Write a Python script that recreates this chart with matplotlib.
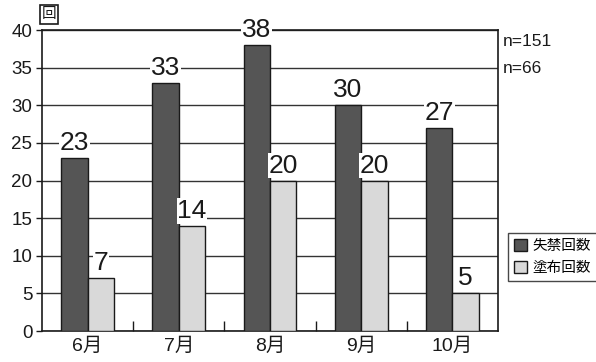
import numpy as np
from matplotlib import pyplot as plt
from matplotlib.patches import Patch

plt.rcParams['font.family'] = ['Liberation Sans', 'Noto Sans CJK JP', 'DejaVu Sans']

# monthly counts
months = ['6月', '7月', '8月', '9月', '10月']
incontinence = [23, 33, 38, 30, 27]   # 失禁回数
application = [7, 14, 20, 20, 5]     # 塗布回数
n_labels = ['n=151', 'n=66']

x = np.arange(len(months))
w = 0.29

fig = plt.figure(figsize=(5.96, 3.62), dpi=100)
ax = fig.add_axes([0.0705, 0.0856, 0.765, 0.831])

b1 = ax.bar(x - w/2, incontinence, w, color='#555555', edgecolor='#1a1a1a', linewidth=1.0, zorder=3)
b2 = ax.bar(x + w/2, application, w, color='#d9d9d9', edgecolor='#1a1a1a', linewidth=1.0, zorder=3)

for xs, vals in [(x - w/2, incontinence), (x + w/2, application)]:
    for xi, v in zip(xs, vals):
        ax.text(xi, v + 0.4, str(v), ha='center', va='bottom', fontsize=19, color='#1a1a1a',
                zorder=4, bbox=dict(facecolor='white', edgecolor='none', pad=0.5))

ax.set_xlim(-0.5, len(months) - 0.5)
ax.set_ylim(0, 40)
ax.set_yticks(np.arange(0, 41, 5))
ax.tick_params(axis='y', labelsize=13.5, length=4, width=1, colors='#1a1a1a', pad=3)
ax.yaxis.grid(True, color='#333333', linewidth=1.0, zorder=0)

# category labels at centres, small inward ticks on the boundaries
ax.set_xticks(x)
ax.set_xticklabels(months, fontsize=14)
ax.tick_params(axis='x', length=0, pad=5, colors='#1a1a1a')
ax.set_xticks(np.arange(0.5, len(months) - 0.5), minor=True)
ax.tick_params(axis='x', which='minor', direction='in', length=7, width=1, color='#1a1a1a')

for s in ax.spines.values():
    s.set_color('#1a1a1a')
    s.set_linewidth(1.2)

# unit label
fig.text(0.082, 0.96, '回', ha='center', va='center', fontsize=10.5, color='#1a1a1a',
         bbox=dict(facecolor='white', edgecolor='#1a1a1a', linewidth=1.2, pad=1.5))

fig.text(0.843, 0.884, n_labels[0], ha='left', va='center', fontsize=12.5, color='#1a1a1a')
fig.text(0.843, 0.812, n_labels[1], ha='left', va='center', fontsize=12.5, color='#1a1a1a')

handles = [Patch(facecolor='#555555', edgecolor='#1a1a1a'),
           Patch(facecolor='#d9d9d9', edgecolor='#1a1a1a')]
fig.legend(handles, ['失禁回数', '塗布回数'], loc='center left', bbox_to_anchor=(0.84, 0.29),
           frameon=True, fancybox=False, edgecolor='#1a1a1a',
           handlelength=0.9, handleheight=0.9, handletextpad=0.4, borderpad=0.4,
           labelspacing=0.6, prop={'family': ['Noto Sans CJK JP'], 'size': 10.5})

plt.savefig('out.png', dpi=100)
